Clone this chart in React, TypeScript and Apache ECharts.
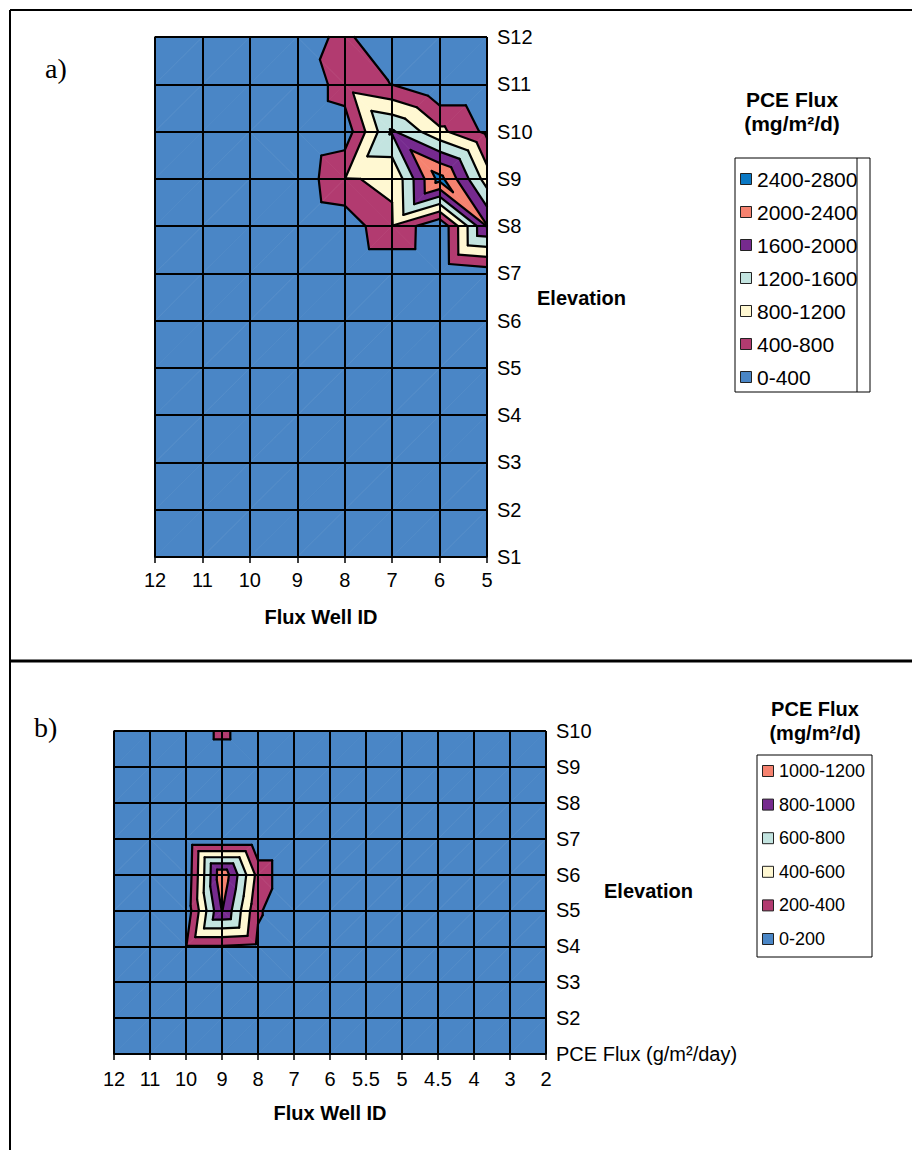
import React, { useEffect, useRef } from 'react';
import * as echarts from 'echarts';

// ---------- Panel a) ----------
const wellsA = ['12', '11', '10', '9', '8', '7', '6', '5'];
const elevA = ['S1', 'S2', 'S3', 'S4', 'S5', 'S6', 'S7', 'S8', 'S9', 'S10', 'S11', 'S12'];
// PCE flux (mg/m2/d); rows S1..S12, columns follow wellsA
const fluxA: number[][] = [
  [0, 0, 0, 0, 0, 0, 0, 0], // S1
  [0, 0, 0, 0, 0, 0, 0, 0], // S2
  [0, 0, 0, 0, 0, 0, 0, 0], // S3
  [0, 0, 0, 0, 0, 0, 0, 0], // S4
  [0, 0, 0, 0, 0, 0, 0, 0], // S5
  [0, 0, 0, 0, 0, 0, 0, 0], // S6
  [0, 0, 0, 0, 0, 0, 0, 150], // S7
  [0, 0, 0, 0, 100, 780, 20, 2020], // S8
  [0, 0, 0, 80, 790, 820, 2550, 1000], // S9
  [0, 0, 0, 0, 144, 1650, 900, 300], // S10
  [0, 0, 0, 0, 620, 390, 0, 0], // S11
  [0, 0, 0, 200, 500, 0, 0, 0], // S12
];
const breaksA = [0, 400, 800, 1200, 1600, 2000, 2400, 2800];
const colorsA = ['#4A86C6', '#B23B70', '#FFF8D2', '#C3E4E0', '#762A8E', '#F5826F', '#0A78C4'];

// ---------- Panel b) ----------
const wellsB = ['12', '11', '10', '9', '8', '7', '6', '5.5', '5', '4.5', '4', '3', '2'];
const elevB = ['PCE Flux (g/m²/day)', 'S2', 'S3', 'S4', 'S5', 'S6', 'S7', 'S8', 'S9', 'S10'];
// rows bottom..top (elevB order), columns follow wellsB
const fluxB: number[][] = [
  [0, 0, 0, 0, 0, 0, 0, 0, 0, 0, 0, 0, 0],
  [0, 0, 0, 0, 0, 0, 0, 0, 0, 0, 0, 0, 0], // S2
  [0, 0, 0, 0, 0, 0, 0, 0, 0, 0, 0, 0, 0], // S3
  [0, 0, 190, 190, 150, 0, 0, 0, 0, 0, 0, 0, 0], // S4
  [0, 0, 60, 1010, 230, 0, 0, 0, 0, 0, 0, 0, 0], // S5
  [0, 0, 25, 1160, 330, 0, 0, 0, 0, 0, 0, 0, 0], // S6
  [0, 0, 0, 0, 0, 0, 0, 0, 0, 0, 0, 0, 0], // S7
  [0, 0, 0, 0, 0, 0, 0, 0, 0, 0, 0, 0, 0], // S8
  [0, 0, 0, 0, 0, 0, 0, 0, 0, 0, 0, 0, 0], // S9
  [0, 0, 0, 260, 0, 0, 0, 0, 0, 0, 0, 0, 0], // S10
];
const breaksB = [0, 200, 400, 600, 800, 1000, 1200];
const colorsB = ['#4A86C6', '#B23B70', '#FFF8D2', '#C3E4E0', '#762A8E', '#F5826F'];

const SANS = '"Liberation Sans", Arial, sans-serif';
const SERIF = '"Liberation Serif", "Times New Roman", serif';

type P = [number, number, number];

// Sutherland–Hodgman clip of a polygon against z >= t (above) or z <= t
function clip(poly: P[], t: number, above: boolean): P[] {
  const out: P[] = [];
  const n = poly.length;
  for (let k = 0; k < n; k++) {
    const a = poly[k];
    const b = poly[(k + 1) % n];
    const ina = above ? a[2] >= t : a[2] <= t;
    const inb = above ? b[2] >= t : b[2] <= t;
    if (ina) out.push(a);
    if (ina !== inb) {
      const f = (t - a[2]) / (b[2] - a[2]);
      out.push([a[0] + f * (b[0] - a[0]), a[1] + f * (b[1] - a[1]), t]);
    }
  }
  return out;
}

// Each grid cell is split into two triangles along its higher-valued diagonal,
// so ridges running corner to corner stay connected.
function cellTriangles(vals: number[][], i: number, j: number): P[][] {
  const p00: P = [i, j, vals[j][i]];
  const p10: P = [i + 1, j, vals[j][i + 1]];
  const p01: P = [i, j + 1, vals[j + 1][i]];
  const p11: P = [i + 1, j + 1, vals[j + 1][i + 1]];
  if (p00[2] + p11[2] >= p10[2] + p01[2]) {
    return [
      [p00, p10, p11],
      [p00, p11, p01],
    ];
  }
  return [
    [p00, p10, p01],
    [p10, p11, p01],
  ];
}

function cellData(vals: number[][]) {
  const data: number[][] = [];
  for (let j = 0; j < vals.length - 1; j++) {
    for (let i = 0; i < vals[0].length - 1; i++) data.push([i, j]);
  }
  return data;
}

function fillSeries(idx: number, vals: number[][], breaks: number[], colors: string[]) {
  const nb = colors.length;
  return {
    type: 'custom',
    xAxisIndex: idx,
    yAxisIndex: idx,
    z: 2,
    silent: true,
    encode: { x: 0, y: 1 },
    data: cellData(vals),
    renderItem: (_params: any, api: any) => {
      const i = api.value(0);
      const j = api.value(1);
      const children: any[] = [];
      for (const tri of cellTriangles(vals, i, j)) {
        for (let b = 0; b < nb; b++) {
          let poly = tri;
          if (b > 0) poly = clip(poly, breaks[b], true);
          if (b < nb - 1 && poly.length) poly = clip(poly, breaks[b + 1], false);
          if (poly.length < 3) continue;
          children.push({
            type: 'polygon',
            shape: { points: poly.map((p) => api.coord([p[0], p[1]])) },
            style: { fill: colors[b], stroke: colors[b], lineWidth: 0.7 },
          });
        }
      }
      return { type: 'group', children };
    },
  };
}

function lineSeries(idx: number, vals: number[][], breaks: number[], nb: number) {
  return {
    type: 'custom',
    xAxisIndex: idx,
    yAxisIndex: idx,
    z: 3,
    silent: true,
    encode: { x: 0, y: 1 },
    data: cellData(vals),
    renderItem: (_params: any, api: any) => {
      const i = api.value(0);
      const j = api.value(1);
      const children: any[] = [];
      for (const tri of cellTriangles(vals, i, j)) {
        for (let b = 1; b < nb; b++) {
          const t = breaks[b];
          const pts: number[][] = [];
          for (let k = 0; k < 3; k++) {
            const a = tri[k];
            const c = tri[(k + 1) % 3];
            if ((a[2] - t) * (c[2] - t) < 0) {
              const f = (t - a[2]) / (c[2] - a[2]);
              pts.push(api.coord([a[0] + f * (c[0] - a[0]), a[1] + f * (c[1] - a[1])]));
            }
          }
          if (pts.length === 2) {
            children.push({
              type: 'line',
              shape: { x1: pts[0][0], y1: pts[0][1], x2: pts[1][0], y2: pts[1][1] },
              style: { stroke: '#000', lineWidth: 2.2, lineCap: 'round' },
            });
          }
        }
      }
      return { type: 'group', children };
    },
  };
}

function xAxisFor(idx: number, labels: string[], fontSize: number, margin: number) {
  return {
    gridIndex: idx,
    type: 'value',
    min: 0,
    max: labels.length - 1,
    interval: 1,
    position: 'bottom',
    z: 4,
    axisLine: { show: true, lineStyle: { color: '#000', width: 1.5 } },
    axisTick: { show: true, length: 6, lineStyle: { color: '#000', width: 1.5 } },
    axisLabel: {
      show: true,
      margin,
      color: '#000',
      fontSize,
      fontFamily: SANS,
      showMinLabel: true,
      showMaxLabel: true,
      formatter: (v: number) => labels[Math.round(v)] ?? '',
    },
    splitLine: { show: true, lineStyle: { color: '#000', width: 2 } },
  };
}

function yAxisFor(idx: number, labels: string[], fontSize: number) {
  return {
    gridIndex: idx,
    type: 'value',
    min: 0,
    max: labels.length - 1,
    interval: 1,
    position: 'right',
    z: 4,
    axisLine: { show: true, lineStyle: { color: '#000', width: 1.5 } },
    axisTick: { show: true, length: 6, lineStyle: { color: '#000', width: 1.5 } },
    axisLabel: {
      show: true,
      margin: 10,
      color: '#000',
      fontSize,
      fontFamily: SANS,
      showMinLabel: true,
      showMaxLabel: true,
      formatter: (v: number) => labels[Math.round(v)] ?? '',
    },
    splitLine: { show: true, lineStyle: { color: '#000', width: 2 } },
  };
}

function text(x: number, y: number, str: string, font: string, align = 'left') {
  return {
    type: 'text',
    x,
    y,
    silent: true,
    style: {
      text: str,
      fill: '#000',
      font,
      align,
      verticalAlign: 'middle',
      textAlign: align,
      textVerticalAlign: 'middle',
    },
  };
}

function legendGraphics(
  breaks: number[],
  colors: string[],
  box: { x: number; y: number; w: number; h: number; inner?: number },
  firstY: number,
  step: number,
  fontSize: number
) {
  const els: any[] = [
    {
      type: 'rect',
      shape: { x: box.x, y: box.y, width: box.w, height: box.h },
      style: { fill: '#fff', stroke: '#000', lineWidth: 1 },
    },
  ];
  if (box.inner) {
    els.push({
      type: 'line',
      shape: { x1: box.inner, y1: box.y, x2: box.inner, y2: box.y + box.h },
      style: { stroke: '#000', lineWidth: 1 },
    });
  }
  const nb = colors.length;
  for (let row = 0; row < nb; row++) {
    const b = nb - 1 - row;
    const cy = firstY + row * step;
    els.push({
      type: 'rect',
      shape: { x: box.x + 5.5, y: cy - 5.5, width: 11, height: 11 },
      style: { fill: colors[b], stroke: '#222', lineWidth: 1 },
    });
    els.push(text(box.x + 22, cy, `${breaks[b]}-${breaks[b + 1]}`, `${fontSize}px ${SANS}`));
  }
  return els;
}

export default function App() {
  const ref = useRef<HTMLDivElement>(null);

  useEffect(() => {
    if (!ref.current) return;
    const chart = echarts.init(ref.current, null, { renderer: 'svg' });

    const frame = [
      { type: 'line', shape: { x1: 10, y1: 10, x2: 912, y2: 10 }, style: { stroke: '#000', lineWidth: 2 } },
      { type: 'line', shape: { x1: 10, y1: 10, x2: 10, y2: 1150 }, style: { stroke: '#000', lineWidth: 2 } },
      { type: 'line', shape: { x1: 10, y1: 661, x2: 912, y2: 661 }, style: { stroke: '#000', lineWidth: 3 } },
    ];

    const option: any = {
      animation: false,
      backgroundColor: '#fff',
      grid: [
        { left: 155, top: 37, width: 332, height: 520, containLabel: false },
        { left: 114, top: 731, width: 432, height: 323, containLabel: false },
      ],
      xAxis: [xAxisFor(0, wellsA, 20, 13), xAxisFor(1, wellsB, 20, 15)],
      yAxis: [yAxisFor(0, elevA, 20), yAxisFor(1, elevB, 20)],
      series: [
        fillSeries(0, fluxA, breaksA, colorsA),
        lineSeries(0, fluxA, breaksA, colorsA.length),
        fillSeries(1, fluxB, breaksB, colorsB),
        lineSeries(1, fluxB, breaksB, colorsB.length),
      ],
      graphic: [
        ...frame,
        text(45, 68, 'a)', `28px ${SERIF}`),
        text(34, 727, 'b)', `28px ${SERIF}`),
        text(321, 617, 'Flux Well ID', `bold 20px ${SANS}`, 'center'),
        text(537, 298, 'Elevation', `bold 20px ${SANS}`),
        text(330, 1113, 'Flux Well ID', `bold 20px ${SANS}`, 'center'),
        text(604, 891, 'Elevation', `bold 20px ${SANS}`),
        text(792, 99, 'PCE Flux', `bold 21px ${SANS}`, 'center'),
        text(792, 123, '(mg/m²/d)', `bold 21px ${SANS}`, 'center'),
        text(815, 709, 'PCE Flux', `bold 20px ${SANS}`, 'center'),
        text(815, 733, '(mg/m²/d)', `bold 20px ${SANS}`, 'center'),
        ...legendGraphics(breaksA, colorsA, { x: 735, y: 158, w: 135, h: 234, inner: 857 }, 179, 33, 21),
        ...legendGraphics(breaksB, colorsB, { x: 757, y: 755, w: 115, h: 202 }, 771, 33.6, 18),
      ],
    };

    chart.setOption(option);
    return () => chart.dispose();
  }, []);

  return (
    <div
      ref={ref}
      style={{ position: 'absolute', left: 0, top: 0, width: 912, height: 1150 }}
    />
  );
}
